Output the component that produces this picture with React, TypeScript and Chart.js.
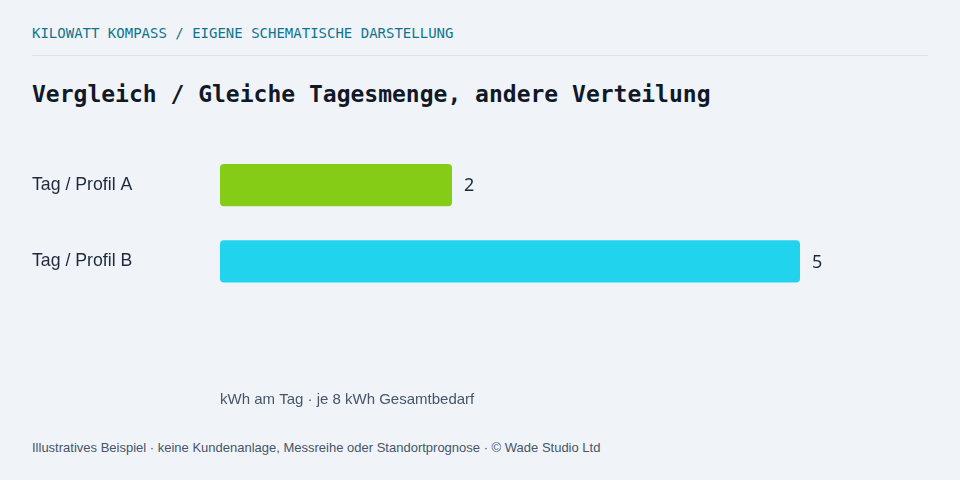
import React, { useEffect, useRef } from "react";
import { Chart, registerables } from "chart.js";

Chart.register(...registerables);

const categories = ["Tag / Profil A", "Tag / Profil B"];
const values = [2, 5];
const barColors = ["#84cc16", "#22d3ee"];
const axisTitle = "kWh am Tag · je 8 kWh Gesamtbedarf";
const kicker = "KILOWATT KOMPASS / EIGENE SCHEMATISCHE DARSTELLUNG";
const heading = "Vergleich / Gleiche Tagesmenge, andere Verteilung";
const footer =
  "Illustratives Beispiel · keine Kundenanlage, Messreihe oder Standortprognose · © Wade Studio Ltd";

const valueLabels = {
  id: "valueLabels",
  afterDatasetsDraw(chart: any) {
    const ctx = chart.ctx;
    const meta = chart.getDatasetMeta(0);
    ctx.save();
    ctx.font = "18px 'Noto Sans', sans-serif";
    ctx.fillStyle = "#1e293b";
    ctx.textAlign = "left";
    ctx.textBaseline = "middle";
    meta.data.forEach((el: any, i: number) => {
      ctx.fillText(String(values[i]), el.x + 12, el.y + 1);
    });
    ctx.restore();
  },
};

export default function App() {
  const ref = useRef<HTMLCanvasElement | null>(null);

  useEffect(() => {
    if (!ref.current) return;
    const chart = new Chart(ref.current, {
      type: "bar",
      data: {
        labels: categories,
        datasets: [
          {
            data: values,
            backgroundColor: barColors,
            borderRadius: 4,
            borderSkipped: false,
            barPercentage: 0.553,
            categoryPercentage: 1,
          },
        ],
      },
      options: {
        indexAxis: "y",
        animation: false,
        responsive: true,
        maintainAspectRatio: false,
        layout: { padding: { top: 17, right: 12, left: 0, bottom: 0 } },
        plugins: {
          legend: { display: false },
          tooltip: { enabled: false },
        },
        scales: {
          x: {
            min: 0,
            max: 6,
            grid: { display: false },
            border: { display: false },
            ticks: { display: false },
            title: {
              display: true,
              text: axisTitle,
              align: "start",
              color: "#475569",
              font: { family: "'Liberation Sans', Arial, sans-serif", size: 15 },
              padding: { top: 83.5, bottom: 11 },
            },
          },
          y: {
            grid: { display: false },
            border: { display: false },
            afterFit(scale: any) {
              scale.width = 188;
            },
            ticks: {
              crossAlign: "far",
              padding: 0,
              color: "#1e293b",
              font: { family: "'Liberation Sans', Arial, sans-serif", size: 17.7 },
            },
          },
        },
      },
      plugins: [valueLabels],
    });
    return () => chart.destroy();
  }, []);

  return (
    <div
      style={{
        position: "fixed",
        left: 0,
        top: 0,
        width: 960,
        height: 480,
        background: "#f0f4f9",
        overflow: "hidden",
      }}
    >
      <div
        style={{
          position: "absolute",
          left: 32,
          top: 24,
          fontFamily: "'DejaVu Sans Mono', monospace",
          fontSize: 14,
          lineHeight: "18px",
          color: "#0e7490",
        }}
      >
        {kicker}
      </div>
      <div
        style={{
          position: "absolute",
          left: 32,
          top: 55,
          width: 896,
          height: 1,
          background: "#dbe3ea",
        }}
      />
      <div
        style={{
          position: "absolute",
          left: 32,
          top: 79,
          fontFamily: "'DejaVu Sans Mono', monospace",
          fontWeight: "bold",
          fontSize: 23,
          lineHeight: "30px",
          color: "#111827",
        }}
      >
        {heading}
      </div>
      <div
        style={{
          position: "absolute",
          left: 32,
          top: 130,
          width: 896,
          height: 290,
        }}
      >
        <canvas ref={ref} />
      </div>
      <div
        style={{
          position: "absolute",
          left: 32,
          top: 440,
          fontFamily: "'Liberation Sans', Arial, sans-serif",
          fontSize: 13,
          lineHeight: "16px",
          color: "#475569",
        }}
      >
        {footer}
      </div>
    </div>
  );
}
